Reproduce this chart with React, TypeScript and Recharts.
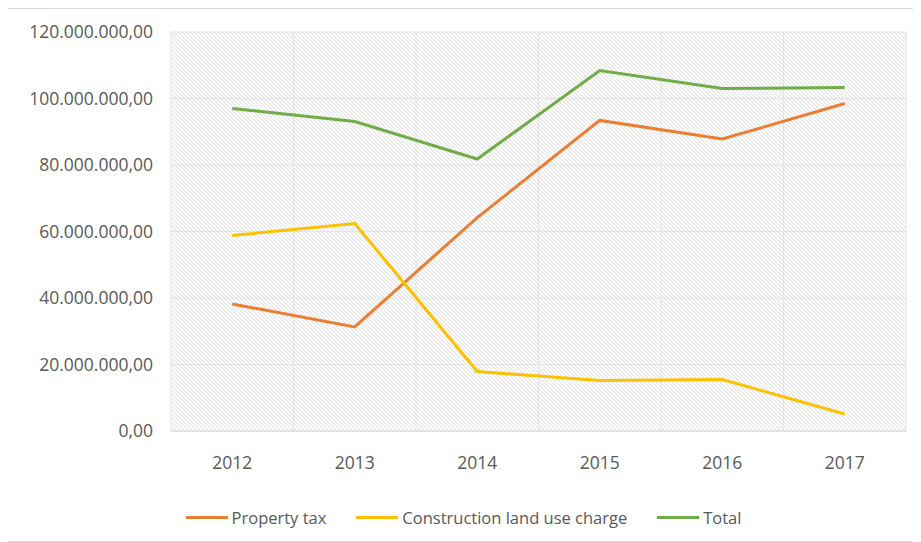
import React from 'react';
import {
  LineChart,
  Line,
  XAxis,
  YAxis,
  CartesianGrid,
  Legend
} from 'recharts';

// Values
const years = ['2012', '2013', '2014', '2015', '2016', '2017'];
const propertyTax = [38.2, 31.3, 64.2, 93.4, 87.8, 98.5];
const constructionCharge = [58.8, 62.4, 17.9, 15.2, 15.5, 5.1];
const total = [97.0, 93.1, 81.8, 108.4, 103.0, 103.3];
const yTicks = [0, 20, 40, 60, 80, 100, 120];
const gridTicks = [-0.5, 0.5, 1.5, 2.5, 3.5, 4.5, 5.5];
const seriesOrder = ['Property tax', 'Construction land use charge', 'Total'];

const data = years.map((year, i) => ({
  idx: i,
  year,
  property: propertyTax[i] * 1e6,
  construction: constructionCharge[i] * 1e6,
  total: total[i] * 1e6
}));

const fmt = (v: number) => {
  const int = Math.round(v).toString().replace(/\B(?=(\d{3})+(?!\d))/g, '.');
  return `${int},00`;
};

const FONT = '"Open Sans", "Noto Sans", sans-serif';
const TEXT = '#595959';

const LegendContent = (props: any) => {
  const items = [...(props.payload || [])].sort(
    (a: any, b: any) => seriesOrder.indexOf(a.value) - seriesOrder.indexOf(b.value)
  );
  return (
    <div style={{ display: 'flex', justifyContent: 'center', gap: 30, fontFamily: FONT, fontSize: 16.5, color: TEXT, marginLeft: 14, paddingTop: 17 }}>
      {items.map((p: any) => (
        <div key={p.value} style={{ display: 'flex', alignItems: 'center' }}>
          <span style={{ display: 'inline-block', width: 42, height: 3, background: p.color, marginRight: 4 }} />
          <span>{p.value}</span>
        </div>
      ))}
    </div>
  );
};

const App: React.FC = () => {
  return (
    <div style={{ position: 'relative', marginLeft: -2, width: 912, height: 532, border: '1px solid #d9d9d9', background: '#fff' }}>
      <LineChart width={912} height={532} data={data} margin={{ top: 23, right: 13, left: 0, bottom: 8 }}>
        <defs>
          <pattern id="hatch" width="4" height="4" patternUnits="userSpaceOnUse">
            <rect width="4" height="4" fill="#fcfcfc" />
            <path d="M-1,-1 L5,5 M-1,3 L1,5 M3,-1 L5,1" stroke="#e0e0e0" strokeWidth="1" />
          </pattern>
        </defs>
        <CartesianGrid xAxisId="grid" fill="url(#hatch)" stroke="#e4e4e4" strokeWidth={1} />
        <XAxis
          xAxisId="grid"
          type="number"
          dataKey="idx"
          domain={[-0.5, 5.5]}
          ticks={gridTicks}
          hide
        />
        <XAxis
          type="number"
          dataKey="idx"
          domain={[-0.5, 5.5]}
          ticks={[0, 1, 2, 3, 4, 5]}
          tickFormatter={(v: number) => years[v]}
          tickLine={false}
          tickSize={0}
          tickMargin={26}
          height={58}
          axisLine={{ stroke: '#d9d9d9' }}
          tick={{ fill: TEXT, fontSize: 17.5, fontFamily: FONT }}
        />
        <YAxis
          domain={[0, 120e6]}
          ticks={yTicks.map((t) => t * 1e6)}
          tickFormatter={fmt}
          width={164}
          tickLine={false}
          axisLine={false}
          tickSize={0}
          tickMargin={18}
          tick={{ fill: TEXT, fontSize: 17.5, fontFamily: FONT }}
        />
        <Legend verticalAlign="bottom" height={44} content={<LegendContent />} />
        <Line name="Property tax" dataKey="property" stroke="#ED7D31" strokeWidth={3} dot={false} isAnimationActive={false} />
        <Line name="Construction land use charge" dataKey="construction" stroke="#FFC000" strokeWidth={3} dot={false} isAnimationActive={false} />
        <Line name="Total" dataKey="total" stroke="#70AD47" strokeWidth={3} dot={false} isAnimationActive={false} />
      </LineChart>
    </div>
  );
};

export default App;
